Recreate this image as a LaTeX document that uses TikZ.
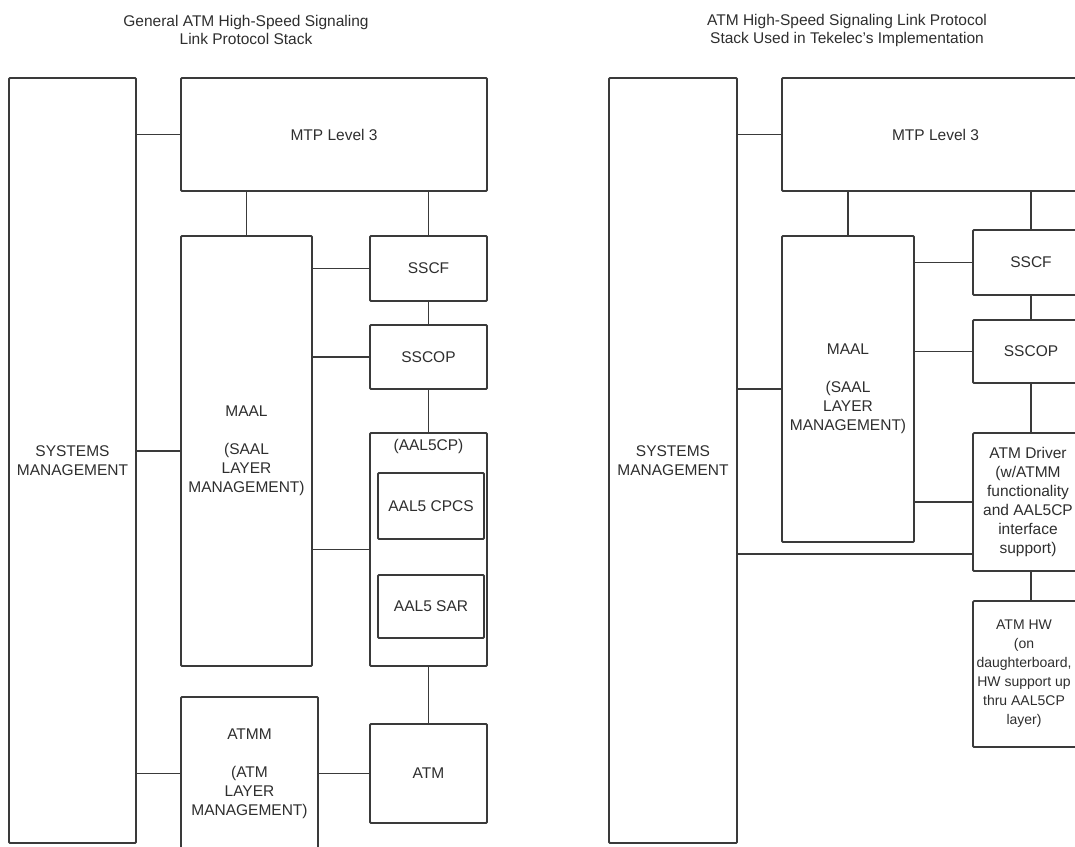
\documentclass[tikz,border=0pt]{standalone}
\usepackage{fontspec}
\setmainfont{Liberation Sans}
\usetikzlibrary{positioning}

\definecolor{linegray}{HTML}{3A3A3A}
\definecolor{textgray}{HTML}{2E2E2E}

\tikzset{
  layer/.style={draw=linegray, line width=1.8pt, rounded corners=1pt, align=center,
    text=textgray, inner sep=0pt, font=\fontsize{15.5}{19}\selectfont},
  link/.style={draw=linegray, line width=1.8pt},
  heading/.style={text=textgray, align=center, font=\fontsize{15.5}{18}\selectfont},
  boxtext/.style={text=textgray, align=center, inner sep=0pt}
}

\begin{document}
\begin{tikzpicture}[x=1pt, y=-1pt]
    \useasboundingbox (0,0) rectangle (1075,846);
    \clip (0,0) rectangle (1075,846);

    % Left stack: general protocol stack
    \node[heading] (title1) at (246,30) {General ATM High-Speed Signaling\\Link Protocol Stack};
    \node[layer, minimum width=127pt, minimum height=765pt] (sm1) at (72.5,460.5) {SYSTEMS\\MANAGEMENT};
    \node[layer, minimum width=306pt, minimum height=113pt] (mtp1) at (334,134.5) {MTP Level 3};
    \node[layer, minimum width=131pt, minimum height=430pt] (maal1) at (246.5,451) {MAAL\\[19pt](SAAL\\LAYER\\MANAGEMENT)};
    \node[layer, minimum width=117pt, minimum height=65pt] (sscf1) at (428.5,268.5) {SSCF};
    \node[layer, minimum width=117pt, minimum height=64pt] (sscop1) at (428.5,357) {SSCOP};
    \node[layer, minimum width=117pt, minimum height=233pt] (aal1) at (428.5,549.5) {};
    \node[below=7pt of aal1.north, boxtext, font=\fontsize{15.5}{19}\selectfont] (aalname1) {(AAL5CP)};
    \node[layer, minimum width=106pt, minimum height=66pt] (cpcs1) at (431,506) {AAL5 CPCS};
    \node[layer, minimum width=106pt, minimum height=63pt] (sar1) at (431,606.5) {AAL5 SAR};
    \node[layer, minimum width=117pt, minimum height=99pt] (atm1) at (428.5,773.5) {ATM};
    \node[layer, minimum width=137pt, minimum height=153pt] (atmm1) at (249.5,773.5) {ATMM\\[19pt](ATM\\LAYER\\MANAGEMENT)};

    \draw[link] (mtp1.west) -- (mtp1.west -| sm1.east);
    \draw[link] (maal1.west) -- (maal1.west -| sm1.east);
    \draw[link] (atmm1.west) -- (atmm1.west -| sm1.east);
    \draw[link] (maal1.north) -- (maal1.north |- mtp1.south);
    \draw[link] (sscf1.north) -- (sscf1.north |- mtp1.south);
    \draw[link] (sscf1.west) -- (sscf1.west -| maal1.east);
    \draw[link] (sscop1.west) -- (sscop1.west -| maal1.east);
    \draw[link] (aal1.west) -- (aal1.west -| maal1.east);
    \draw[link] (sscf1.south) -- (sscop1.north);
    \draw[link] (sscop1.south) -- (aal1.north);
    \draw[link] (aal1.south) -- (atm1.north);
    \draw[link] (atm1.west) -- (atmm1.east);

    % Right stack: Tekelec implementation
    \node[heading] (title2) at (847,30) {ATM High-Speed Signaling Link Protocol\\Stack Used in Tekelec's Implementation};
    \node[layer, minimum width=128pt, minimum height=765pt] (sm2) at (673,460.5) {SYSTEMS\\MANAGEMENT};
    \node[layer, minimum width=307pt, minimum height=113pt] (mtp2) at (935.5,134.5) {MTP Level 3};
    \node[layer, minimum width=132pt, minimum height=306pt] (maal2) at (848,389) {MAAL\\[19pt](SAAL\\LAYER\\MANAGEMENT)};
    \node[layer, minimum width=116pt, minimum height=65pt] (sscf2) at (1031,262.5) {SSCF};
    \node[layer, minimum width=116pt, minimum height=63pt] (sscop2) at (1031,351.5) {SSCOP};
    \node[layer, minimum width=116pt, minimum height=138pt] (drv2) at (1031,502) {};
    \node[layer, minimum width=116pt, minimum height=146pt] (hw2) at (1031,674) {};
    % these boxes run past the page edge, so their texts sit a little left
    \node[boxtext, font=\fontsize{15.5}{19}\selectfont] (drvtext) at ([xshift=-3pt]drv2.center) {ATM Driver\\(w/ATMM\\functionality\\and AAL5CP\\interface\\support)};
    \node[boxtext, font=\fontsize{14}{19}\selectfont] (hwtext) at ([xshift=-7pt]hw2.center) {ATM HW\\(on\\daughterboard,\\HW support up\\thru AAL5CP\\layer)};
    \coordinate (drvlow) at ([yshift=-52pt]drv2.west);

    \draw[link] (mtp2.west) -- (mtp2.west -| sm2.east);
    \draw[link] (maal2.west) -- (maal2.west -| sm2.east);
    \draw[link] (drvlow) -- (drvlow -| sm2.east);
    \draw[link] (maal2.north) -- (maal2.north |- mtp2.south);
    \draw[link] (sscf2.north) -- (sscf2.north |- mtp2.south);
    \draw[link] (sscf2.west) -- (sscf2.west -| maal2.east);
    \draw[link] (sscop2.west) -- (sscop2.west -| maal2.east);
    \draw[link] (drv2.west) -- (drv2.west -| maal2.east);
    \draw[link] (sscf2.south) -- (sscop2.north);
    \draw[link] (sscop2.south) -- (drv2.north);
    \draw[link] (drv2.south) -- (hw2.north);
\end{tikzpicture}
\end{document}
